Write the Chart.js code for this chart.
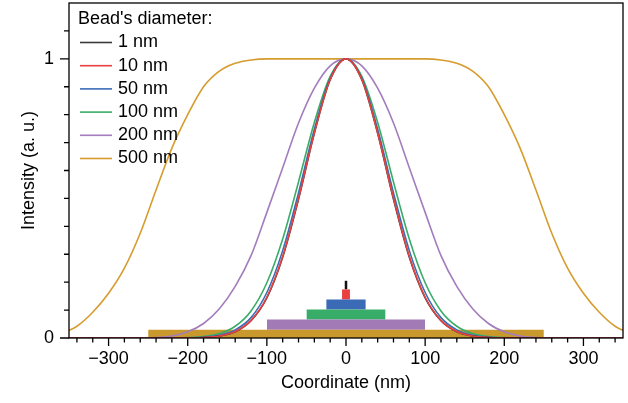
<!DOCTYPE html>
<html>
<head>
<meta charset="utf-8">
<script src="https://cdn.jsdelivr.net/npm/chart.js@4.4.1/dist/chart.umd.min.js"></script>
<style>
  html, body { margin: 0; padding: 0; background: #fff; }
</style>
</head>
<body>
<canvas id="chart" width="628" height="403"></canvas>
<script>
  // Coordinate grid (nm) shared by all intensity profiles
  const coords = [-360, -340, -320, -300, -280, -260, -240, -220, -200, -180, -160, -140, -120, -100, -80, -60, -40, -20,
    0, 20, 40, 60, 80, 100, 120, 140, 160, 180, 200, 220, 240, 260, 280, 300, 320, 340, 360];

  // Intensity profiles, one per bead diameter
  const bead1 = [0, 0, 0, 0, 0, 0, 0, 0, 0.0005, 0.002, 0.007, 0.022, 0.062, 0.144, 0.289, 0.497, 0.733, 0.925,
    1, 0.925, 0.733, 0.497, 0.289, 0.144, 0.062, 0.022, 0.007, 0.002, 0.0005, 0, 0, 0, 0, 0, 0, 0, 0];
  const bead10 = [0, 0, 0, 0, 0, 0, 0, 0, 0.0005, 0.002, 0.0073, 0.023, 0.063, 0.146, 0.292, 0.50, 0.735, 0.926,
    1, 0.926, 0.735, 0.50, 0.292, 0.146, 0.063, 0.023, 0.0073, 0.002, 0.0005, 0, 0, 0, 0, 0, 0, 0, 0];
  const bead50 = [0, 0, 0, 0, 0, 0, 0, 0, 0.0007, 0.0028, 0.0096, 0.029, 0.073, 0.163, 0.313, 0.52, 0.748, 0.93,
    1, 0.93, 0.748, 0.52, 0.313, 0.163, 0.073, 0.029, 0.0096, 0.0028, 0.0007, 0, 0, 0, 0, 0, 0, 0, 0];
  const bead100 = [0, 0, 0, 0, 0, 0, 0, 0.0004, 0.0015, 0.0053, 0.016, 0.042, 0.097, 0.198, 0.355, 0.559, 0.772, 0.937,
    1, 0.937, 0.772, 0.559, 0.355, 0.198, 0.097, 0.042, 0.016, 0.0053, 0.0015, 0.0004, 0, 0, 0, 0, 0, 0, 0];
  const bead200 = [0, 0, 0, 0, 0, 0, 0.002, 0.007, 0.022, 0.052, 0.105, 0.185, 0.295, 0.45, 0.61, 0.77, 0.895, 0.975,
    1, 0.975, 0.895, 0.77, 0.61, 0.45, 0.295, 0.185, 0.105, 0.052, 0.022, 0.007, 0.002, 0, 0, 0, 0, 0, 0];
  const bead500 = [0.015, 0.042, 0.092, 0.16, 0.25, 0.375, 0.53, 0.68, 0.80, 0.90, 0.956, 0.984, 0.996, 1, 1, 1, 1, 1,
    1, 1, 1, 1, 1, 1, 0.996, 0.984, 0.956, 0.90, 0.80, 0.68, 0.53, 0.375, 0.25, 0.16, 0.092, 0.042, 0.015];

  const beadLabels = ['1 nm', '10 nm', '50 nm', '100 nm', '200 nm', '500 nm'];
  const beadProfiles = [bead1, bead10, bead50, bead100, bead200, bead500];
  const beadColors = ['#3a3a3a', '#e8413f', '#3b6cb6', '#3aac68', '#a27cbc', '#d69c2e'];

  // Bead cross-sections stacked under the curves (width in nm, base/top in a.u.)
  const barWidths = [500, 200, 100, 50, 10, 1];
  const barBases = [0, 0.030, 0.066, 0.102, 0.138, 0.174];
  const barTops = [0.030, 0.066, 0.102, 0.138, 0.174, 0.205];
  const barColors = ['#c9992d', '#a17ab6', '#38ad69', '#3b6bb6', '#e94140', '#111111'];

  // Axis ticks
  const xMajorTicks = [-300, -200, -100, 0, 100, 200, 300];
  const yMajorTicks = [0, 1];
  const yMinorTicks = [0.1, 0.2, 0.3, 0.4, 0.5, 0.6, 0.7, 0.8, 0.9, 1.1];
  const xMinorStep = 20;

  const fontFamily = '"Liberation Sans", Arial, sans-serif';
  const fontSize = 18;
  const minus = v => (v < 0 ? '\u2212' + Math.abs(v) : String(v));

  // Curve datasets: first in list gets drawn on top
  const drawOrder = [1, 0, 2, 3, 4, 5];
  const curveSets = drawOrder.map(i => ({
    label: beadLabels[i],
    data: coords.map((x, k) => ({ x: x, y: beadProfiles[i][k] })),
    borderColor: beadColors[i],
    borderWidth: 1.6,
    pointRadius: 0,
    cubicInterpolationMode: 'monotone',
    fill: false
  }));

  // Bar datasets: flat segment filled down to its base value
  const barSets = barWidths.map((w, i) => {
    if (w < 5) {
      return {
        label: 'bar ' + w,
        data: [{ x: 0, y: barBases[i] }, { x: 0, y: barTops[i] }],
        borderColor: barColors[i],
        borderWidth: 2.5,
        pointRadius: 0,
        fill: false
      };
    }
    return {
      label: 'bar ' + w,
      data: [{ x: -w / 2, y: barTops[i] }, { x: w / 2, y: barTops[i] }],
      borderWidth: 0,
      borderColor: 'rgba(0,0,0,0)',
      backgroundColor: barColors[i],
      pointRadius: 0,
      fill: { value: barBases[i] }
    };
  });

  // Frame, tick marks and legend
  const decorations = {
    id: 'decorations',
    afterDraw(chart) {
      const ctx = chart.ctx;
      const area = chart.chartArea;
      const xs = chart.scales.x;
      const ys = chart.scales.y;
      ctx.save();
      ctx.strokeStyle = '#000';
      ctx.lineWidth = 1.3;
      ctx.strokeRect(area.left, area.top, area.right - area.left, area.bottom - area.top);

      ctx.beginPath();
      for (let v = -340; v <= 340; v += xMinorStep) {
        const px = xs.getPixelForValue(v);
        const len = xMajorTicks.includes(v) ? 8 : 4.5;
        ctx.moveTo(px, area.bottom);
        ctx.lineTo(px, area.bottom + len);
      }
      yMajorTicks.forEach(v => {
        const py = ys.getPixelForValue(v);
        ctx.moveTo(area.left, py);
        ctx.lineTo(area.left - 9, py);
      });
      yMinorTicks.forEach(v => {
        const py = ys.getPixelForValue(v);
        ctx.moveTo(area.left, py);
        ctx.lineTo(area.left - 5, py);
      });
      ctx.stroke();

      // legend
      const lx = area.left + 7;
      ctx.font = fontSize + 'px ' + fontFamily;
      ctx.fillStyle = '#000';
      ctx.textBaseline = 'middle';
      ctx.textAlign = 'left';
      ctx.fillText("Bead's diameter:", lx + 2, 19);
      beadLabels.forEach((label, i) => {
        const y = 42.5 + i * 23.2;
        ctx.strokeStyle = beadColors[i];
        ctx.lineWidth = 1.6;
        ctx.beginPath();
        ctx.moveTo(lx + 4, y);
        ctx.lineTo(lx + 36, y);
        ctx.stroke();
        ctx.fillText(label, lx + 42, y);
      });
      ctx.restore();
    }
  };

  new Chart(document.getElementById('chart'), {
    type: 'line',
    data: { datasets: curveSets.concat(barSets) },
    options: {
      responsive: false,
      animation: false,
      devicePixelRatio: 1,
      layout: { padding: { left: 0, right: 5, top: 3, bottom: 0 } },
      plugins: {
        legend: { display: false },
        tooltip: { enabled: false }
      },
      scales: {
        x: {
          type: 'linear',
          min: -350,
          max: 350,
          afterBuildTicks: scale => { scale.ticks = xMajorTicks.map(v => ({ value: v })); },
          afterFit: scale => {
            scale.height = 65;
            scale.paddingLeft = 0;
            scale.paddingRight = 0;
          },
          grid: { display: false, drawTicks: false },
          border: { display: false },
          ticks: {
            padding: 10,
            color: '#000',
            font: { family: fontFamily, size: fontSize },
            maxRotation: 0,
            callback: v => minus(v)
          },
          title: {
            display: true,
            text: 'Coordinate (nm)',
            color: '#000',
            font: { family: fontFamily, size: fontSize },
            padding: { top: 0, bottom: 9 }
          }
        },
        y: {
          type: 'linear',
          min: 0,
          max: 1.2,
          afterBuildTicks: scale => { scale.ticks = yMajorTicks.map(v => ({ value: v })); },
          afterFit: scale => {
            scale.width = 69;
            scale.paddingTop = 0;
            scale.paddingBottom = 0;
          },
          grid: { display: false, drawTicks: false },
          border: { display: false },
          ticks: {
            padding: 15,
            color: '#000',
            font: { family: fontFamily, size: fontSize },
            callback: v => String(v)
          },
          title: {
            display: true,
            text: 'Intensity (a. u.)',
            color: '#000',
            font: { family: fontFamily, size: fontSize },
            padding: { top: 18, bottom: 0 }
          }
        }
      }
    },
    plugins: [decorations]
  });
</script>
</body>
</html>
